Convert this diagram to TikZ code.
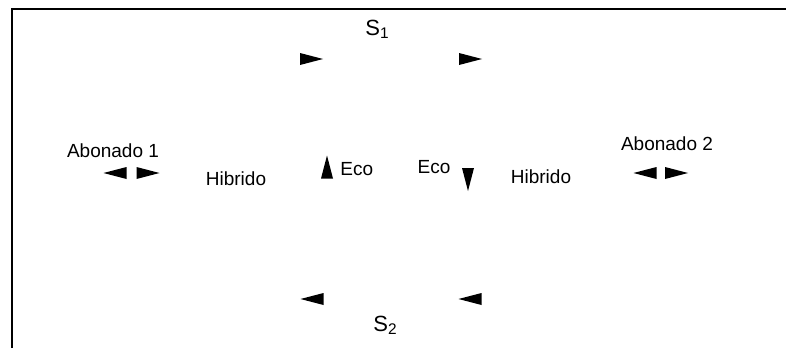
\documentclass[tikz,border=0pt]{standalone}
\usepackage{fontspec}
\setmainfont{Liberation Sans}

\begin{document}
\begin{tikzpicture}[x=.5pt, y=-.5pt,
    txt/.style={font=\fontsize{9.5}{11}\selectfont, inner sep=0pt},
    sig/.style={font=\fontsize{11}{13}\selectfont, inner sep=0pt},
    punta/.pic={\fill (-11.5,-6) -- (11.5,0) -- (-11.5,6) -- cycle;}]
\useasboundingbox (0,0) rectangle (786,348);

% frame
\draw[line width=1pt] (12,348) -- (12,9) -- (786,9);

%labels
\node[sig, anchor=base west] (s1) at (365,35) {S\textsubscript{1}};
\node[sig, anchor=base west] (s2) at (373,331) {S\textsubscript{2}};
\node[txt, anchor=base] (abo1) at (113,157) {Abonado 1};
\node[txt, anchor=base] (abo2) at (667,150) {Abonado 2};
\node[txt, anchor=base] (hib1) at (236,185) {Hibrido};
\node[txt, anchor=base] (hib2) at (541,183) {Hibrido};
\node[txt, anchor=base west] (eco1) at (340,175) {Eco};
\node[txt, anchor=base] (eco2) at (434,173) {Eco};

% upper path
\pic at (311.5,59) {punta};
\pic at (470.5,59) {punta};

% lower path
\pic[rotate=180] at (312,299) {punta};
\pic[rotate=180] at (470,299) {punta};

% abonados
\pic[rotate=180] at (115,173) {punta};
\pic at (148,173) {punta};
\pic[rotate=180] at (645,173) {punta};
\pic at (676.5,173) {punta};

% echo
\pic[rotate=90] at (327,167) {punta};
\pic[rotate=-90] at (468,179.5) {punta};

\end{tikzpicture}
\end{document}
